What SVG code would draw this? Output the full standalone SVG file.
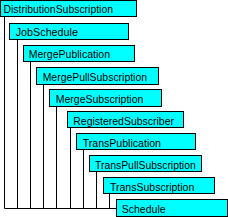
<svg xmlns="http://www.w3.org/2000/svg" width="228" height="217" viewBox="0 0 228 217">
<style>
.box{fill:#00ffff;stroke:#000;stroke-width:1}
.lbl{font-family:"Liberation Sans",Arial,sans-serif;font-size:11px;fill:#000}
.ln{stroke:#000;stroke-width:1;fill:none}
</style>
<rect width="228" height="217" fill="#fff"/>
<g id="connectors">
<path class="ln" d="M4.5 17 V208.5 H116"/>
<path class="ln" d="M17.5 39 V208.5"/>
<path class="ln" d="M30.5 61 V208.5"/>
<path class="ln" d="M43.5 83 V208.5"/>
<path class="ln" d="M56.5 105 V208.5"/>
<path class="ln" d="M70.5 127 V208.5"/>
<path class="ln" d="M83.5 149 V208.5"/>
<path class="ln" d="M96.5 171 V208.5"/>
<path class="ln" d="M109.5 193 V208.5"/>
</g>
<g id="n1"><rect class="box" x="0.5" y="0.5" width="136" height="16"/><text class="lbl" x="3.5" y="13" textLength="109.5" lengthAdjust="spacingAndGlyphs">DistributionSubscription</text></g>
<g id="n2"><rect class="box" x="9.5" y="23.5" width="119" height="16"/><text class="lbl" x="15.7" y="36" textLength="62.3" lengthAdjust="spacingAndGlyphs">JobSchedule</text></g>
<g id="n3"><rect class="box" x="23.5" y="45.5" width="111" height="16"/><text class="lbl" x="28.7" y="58" textLength="81.3" lengthAdjust="spacingAndGlyphs">MergePublication</text></g>
<g id="n4"><rect class="box" x="36.5" y="67.5" width="122" height="17"/><text class="lbl" x="42.7" y="80.5" textLength="104.3" lengthAdjust="spacingAndGlyphs">MergePullSubscription</text></g>
<g id="n5"><rect class="box" x="49.5" y="89.5" width="112" height="17"/><text class="lbl" x="55.7" y="102.5" textLength="87.7" lengthAdjust="spacingAndGlyphs">MergeSubscription</text></g>
<g id="n6"><rect class="box" x="67.5" y="111.5" width="116" height="16"/><text class="lbl" x="73.3" y="124.5" textLength="100.7" lengthAdjust="spacingAndGlyphs">RegisteredSubscriber</text></g>
<g id="n7"><rect class="box" x="76.5" y="133.5" width="119" height="16"/><text class="lbl" x="82.7" y="146.5" textLength="78.3" lengthAdjust="spacingAndGlyphs">TransPublication</text></g>
<g id="n8"><rect class="box" x="89.5" y="155.5" width="112" height="16"/><text class="lbl" x="95" y="168.5" textLength="100.7" lengthAdjust="spacingAndGlyphs">TransPullSubscription</text></g>
<g id="n9"><rect class="box" x="103.5" y="177.5" width="111" height="16"/><text class="lbl" x="110" y="190.5" textLength="84.3" lengthAdjust="spacingAndGlyphs">TransSubscription</text></g>
<g id="n10"><rect class="box" x="116.5" y="199.5" width="111" height="17"/><text class="lbl" x="121.7" y="212.5" textLength="44" lengthAdjust="spacingAndGlyphs">Schedule</text></g>
</svg>
